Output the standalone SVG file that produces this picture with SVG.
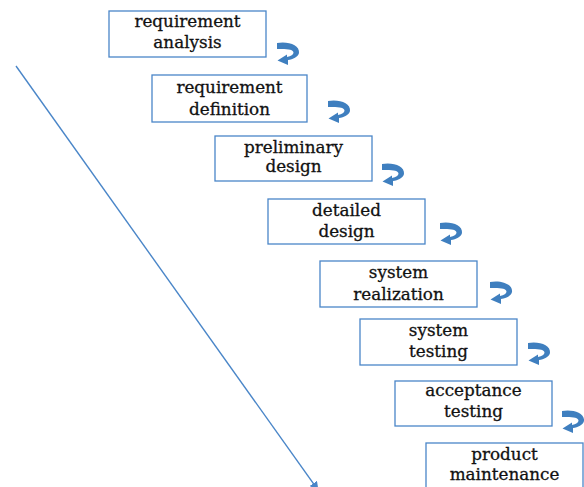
<svg xmlns="http://www.w3.org/2000/svg" width="584" height="487" viewBox="0 0 584 487">
  <style>
    .box { fill: #ffffff; stroke: #4a86c8; stroke-width: 1.3; }
    .lbl { font-family: "DejaVu Serif", "Liberation Serif", serif; font-size: 16.8px; fill: #111111; stroke: #111111; stroke-width: 0.3; text-anchor: middle; }
    .turn { fill: #3f7fbf; }
    .flow { stroke: #4a86c8; stroke-width: 1.4; fill: none; }
  </style>
  <defs>
    <!-- small curved hand-off arrow between consecutive phases -->
    <path id="turn" class="turn" d="M0,1 C11,-1 23,3 22,11 C21,15 16,17.5 11,18 L11,23 L0.5,18.5 L10,12.5 L10,15 C14,14 16.5,12.5 16.5,10.5 C16.5,7.5 10,6.5 0,7 Z"/>
    <marker id="head" viewBox="0 0 10 10" refX="9" refY="5" markerWidth="9" markerHeight="9" markerUnits="userSpaceOnUse" orient="auto">
      <path d="M0,0 L10,5 L0,10 Z" fill="#4a86c8"/>
    </marker>
  </defs>

  <g id="connectors">
    <line class="flow" x1="16" y1="66" x2="318" y2="490" marker-end="url(#head)"/>
    <use href="#turn" x="277" y="42"/>
    <use href="#turn" x="328" y="100"/>
    <use href="#turn" x="382" y="163"/>
    <use href="#turn" x="440" y="222"/>
    <use href="#turn" x="490" y="281"/>
    <use href="#turn" x="528" y="342"/>
    <use href="#turn" x="562" y="410"/>
  </g>

  <g id="requirement-analysis">
    <rect class="box" x="109" y="11" width="157" height="46"/>
    <text class="lbl" x="187.5" y="27">requirement</text>
    <text class="lbl" x="187.5" y="47.5">analysis</text>
  </g>
  <g id="requirement-definition">
    <rect class="box" x="152" y="75" width="155" height="47"/>
    <text class="lbl" x="229.5" y="93">requirement</text>
    <text class="lbl" x="229.5" y="115">definition</text>
  </g>
  <g id="preliminary-design">
    <rect class="box" x="215" y="136" width="157" height="45"/>
    <text class="lbl" x="293.5" y="153">preliminary</text>
    <text class="lbl" x="293.5" y="172">design</text>
  </g>
  <g id="detailed-design">
    <rect class="box" x="268" y="199" width="157" height="45"/>
    <text class="lbl" x="346.5" y="216">detailed</text>
    <text class="lbl" x="346.5" y="236.5">design</text>
  </g>
  <g id="system-realization">
    <rect class="box" x="320" y="261" width="157" height="46"/>
    <text class="lbl" x="398.5" y="278">system</text>
    <text class="lbl" x="398.5" y="300">realization</text>
  </g>
  <g id="system-testing">
    <rect class="box" x="360" y="319" width="157" height="46"/>
    <text class="lbl" x="438.5" y="336">system</text>
    <text class="lbl" x="438.5" y="356.5">testing</text>
  </g>
  <g id="acceptance-testing">
    <rect class="box" x="395" y="381" width="157" height="45"/>
    <text class="lbl" x="473.5" y="396">acceptance</text>
    <text class="lbl" x="473.5" y="416.5">testing</text>
  </g>
  <g id="product-maintenance">
    <rect class="box" x="426" y="443" width="157" height="50"/>
    <text class="lbl" x="504.5" y="460">product</text>
    <text class="lbl" x="504.5" y="480">maintenance</text>
  </g>
</svg>
